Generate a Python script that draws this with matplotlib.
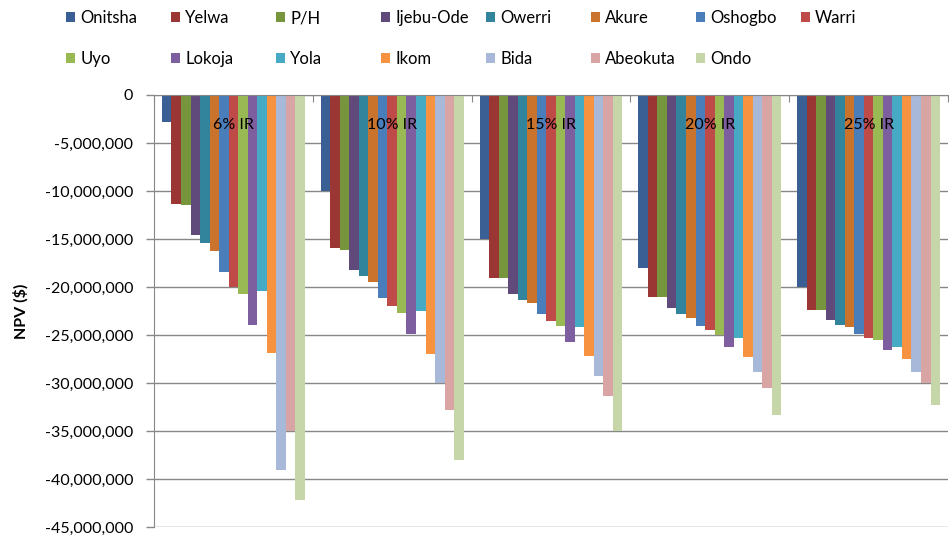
import matplotlib
matplotlib.use('Agg')

import numpy as np
import matplotlib.pyplot as plt
from matplotlib.patches import Patch
from matplotlib.ticker import FuncFormatter

plt.rcParams['font.family'] = ['Lato', 'DejaVu Sans']

rates = ["6% IR", "10% IR", "15% IR", "20% IR", "25% IR"]
cities = ["Onitsha", "Yelwa", "P/H", "Ijebu-Ode", "Owerri", "Akure", "Oshogbo", "Warri",
          "Uyo", "Lokoja", "Yola", "Ikom", "Bida", "Abeokuta", "Ondo"]

# NPV in millions of $, one list per interest rate (order follows cities)
npv_6 = [-2.8, -11.3, -11.5, -14.6, -15.4, -16.2, -18.4, -20.0, -20.7, -23.9, -20.4, -26.9, -39.0, -35.0, -42.2]
npv_10 = [-10.0, -15.9, -16.1, -18.2, -18.8, -19.5, -21.1, -22.0, -22.7, -24.9, -22.5, -27.0, -30.0, -32.8, -38.0]
npv_15 = [-15.0, -19.0, -19.0, -20.7, -21.3, -21.7, -22.8, -23.5, -24.0, -25.7, -24.2, -27.2, -29.3, -31.3, -35.0]
npv_20 = [-18.0, -21.0, -21.0, -22.2, -22.8, -23.2, -24.0, -24.5, -25.0, -26.2, -25.3, -27.3, -28.8, -30.5, -33.3]
npv_25 = [-20.0, -22.4, -22.4, -23.4, -23.9, -24.2, -24.9, -25.3, -25.5, -26.5, -26.2, -27.5, -28.8, -30.0, -32.3]

colors = ["#3A5F95", "#9A3735", "#77953D", "#604A7B", "#31849B", "#C9732C",
          "#4A7EBB", "#BE4B48", "#98B954", "#7D5FA0", "#46AAC5", "#F69240",
          "#A7B8D8", "#D9A5A4", "#C6D6A8"]

data = np.array([npv_6, npv_10, npv_15, npv_20, npv_25]) * 1e6

W, H = 949, 541
fig = plt.figure(figsize=(W / 100, H / 100), dpi=100)
ax = fig.add_axes([154 / W, (H - 527.3) / H, 794 / W, 432.3 / H])

x = np.arange(len(rates))
n = len(cities)
w = 0.06
for i, city in enumerate(cities):
    ax.bar(x + (i - (n - 1) / 2) * w, data[:, i], width=w, color=colors[i],
           label=city, zorder=2)

ax.set_xlim(-0.5, len(rates) - 0.5)
ax.set_ylim(-45e6, 0)
ax.set_yticks(np.arange(-45e6, 1, 5e6))
ax.yaxis.set_major_formatter(FuncFormatter(lambda v, p: f"{v:,.0f}" if v != 0 else "0"))
ax.yaxis.grid(True, color="#878787", linewidth=1.0, zorder=0)
ax.set_axisbelow(True)

for s in ["right", "bottom"]:
    ax.spines[s].set_visible(False)
ax.spines["left"].set_color("#878787")
ax.spines["top"].set_color("#878787")

ax.tick_params(axis="y", colors="#878787", length=6, width=1, pad=9,
               labelcolor="black", labelsize=11.5)

# category axis along the zero line (top), group separators as ticks
ax.set_xticks(np.arange(-0.5, len(rates)), labels=[""] * (len(rates) + 1))
ax.tick_params(axis="x", which="major", top=True, bottom=False, direction="in",
               length=5, colors="#878787", labeltop=False, labelbottom=False)

# category labels sit just under the zero line, over the bars
for xi, r in zip(x, rates):
    ax.text(xi, 0.931, r, transform=ax.get_xaxis_transform(), ha="center",
            va="center", fontsize=11.5, color="black", zorder=5)

ax.set_ylabel("NPV ($)", fontsize=11.5, fontweight="bold")
ax.yaxis.set_label_coords(-0.158, 0.5)

handles = [Patch(facecolor=c, edgecolor="none") for c in colors]
for col in range(8):
    fig.legend(handles[col::8], cities[col::8], loc="upper left",
               bbox_to_anchor=((66 + col * 105) / W, 1 - 10 / H),
               frameon=False, fontsize=12, borderpad=0, borderaxespad=0,
               handlelength=0.55, handleheight=0.55, handletextpad=0.3,
               labelspacing=1.5)

fig.savefig("out.png", dpi=100)
